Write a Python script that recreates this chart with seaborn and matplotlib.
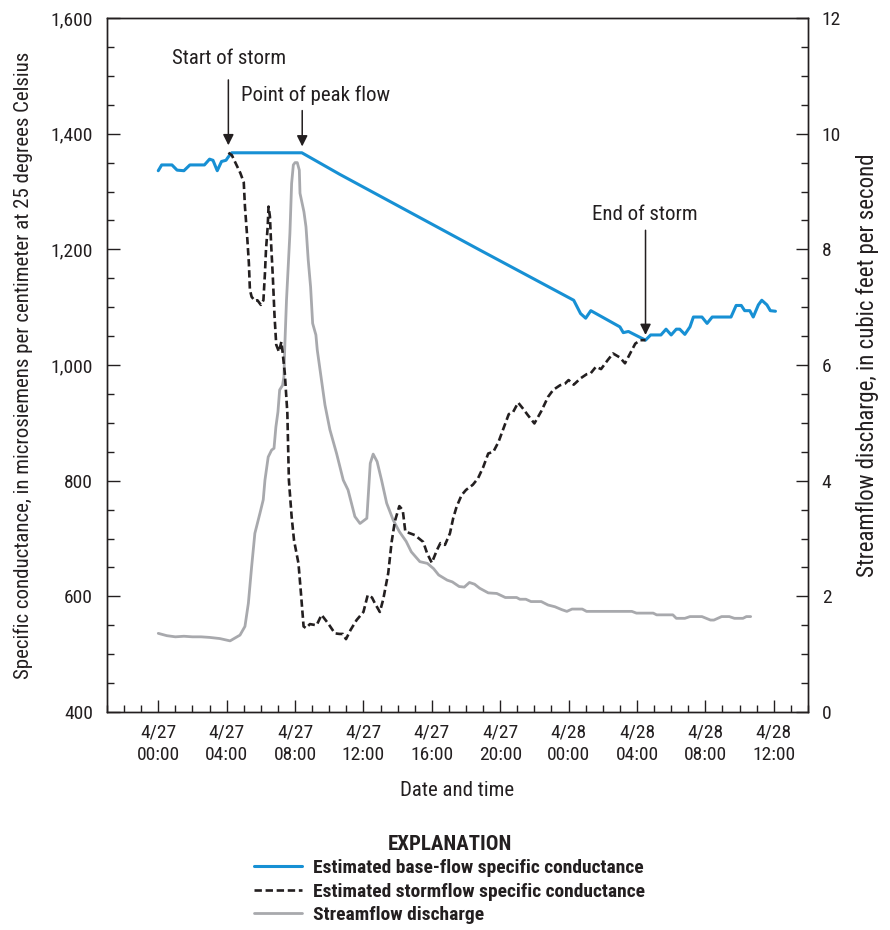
import matplotlib
matplotlib.use("Agg")
import matplotlib.pyplot as plt
from matplotlib.lines import Line2D
from matplotlib.ticker import MultipleLocator, FixedLocator, StrMethodFormatter
import numpy as np
import pandas as pd
import seaborn as sns

# ── data (hours after 4/27 00:00) ────────────────────────────────────────────
base_hours = [0.0, 0.2, 0.8, 1.1, 1.5, 1.85, 2.7, 3.0, 3.2, 3.45, 3.7, 3.96, 4.1,
              4.3, 8.4, 10.6, 18.8, 24.3, 24.7, 25.0, 25.3, 27.0, 27.2, 27.5,
              28.5, 28.8, 29.4, 29.7, 30.0, 30.3, 30.5, 30.8, 31.1, 31.3, 31.8,
              32.1, 32.4, 33.5, 33.8, 34.1, 34.3, 34.6, 34.8, 35.1, 35.3, 35.6,
              35.8, 36.1]
base_sc = [1336, 1346, 1346, 1337, 1336, 1346, 1346, 1356, 1354, 1336, 1352, 1354,
           1360, 1367, 1367, 1330, 1199, 1112, 1089, 1081, 1094, 1066, 1056, 1058,
           1043, 1052, 1052, 1062, 1052, 1062, 1062, 1053, 1066, 1083, 1083, 1072,
           1083, 1083, 1103, 1103, 1094, 1094, 1083, 1104, 1112, 1104, 1094, 1093]

storm_hours = [4.1, 4.3, 4.8, 5.0, 5.07, 5.2, 5.3, 5.36, 5.46, 5.65, 5.8, 6.0, 6.15,
               6.24, 6.3, 6.4, 6.45, 6.53, 6.6, 6.7, 6.8, 6.9, 7.06, 7.2, 7.27, 7.4,
               7.55, 7.64, 7.8, 7.94, 8.2, 8.33, 8.5, 8.64, 8.87, 9.26, 9.55, 9.94,
               10.33, 10.6, 10.8, 10.98, 11.25, 11.6, 12.0, 12.25, 12.5, 12.67,
               12.96, 13.16, 13.45, 13.65, 13.84, 14.1, 14.3, 14.45, 15.0, 15.5,
               15.73, 16.0, 16.3, 16.5, 16.77, 17.06, 17.25, 17.45, 17.74, 18.0,
               18.4, 18.7, 19.0, 19.3, 19.6, 19.9, 20.2, 20.5, 20.76, 21.05, 21.35,
               21.6, 22.0, 22.4, 22.8, 23.1, 23.5, 23.8, 24.0, 24.3, 24.7, 25.05,
               25.3, 25.6, 25.9, 26.3, 26.6, 27.0, 27.3, 27.6, 27.9, 28.2, 28.5]
storm_sc = [1367, 1363, 1332, 1316, 1274, 1222, 1176, 1130, 1118, 1111, 1112, 1104,
            1112, 1159, 1199, 1239, 1274, 1257, 1210, 1153, 1085, 1035, 1023, 1040,
            1023, 986, 917, 801, 738, 697, 657, 611, 548, 545, 552, 550, 568, 553,
            536, 535, 535, 526, 542, 559, 573, 602, 598, 588, 573, 595, 640, 694,
            730, 756, 749, 712, 706, 694, 674, 658, 680, 692, 689, 709, 735, 755,
            775, 784, 793, 804, 823, 847, 850, 867, 891, 915, 919, 935, 924, 914,
            899, 920, 945, 957, 965, 968, 974, 966, 977, 984, 986, 997, 993, 1009,
            1020, 1013, 1003, 1020, 1037, 1043, 1043]

flow_hours = [0.0, 0.5, 1.0, 1.5, 2.0, 2.5, 3.0, 3.6, 4.2, 4.78, 5.07, 5.27, 5.46,
              5.65, 5.95, 6.14, 6.24, 6.43, 6.63, 6.77, 6.88, 7.0, 7.1, 7.27, 7.35,
              7.4, 7.5, 7.7, 7.8, 7.9, 8.0, 8.13, 8.25, 8.29, 8.52, 8.64, 8.68,
              8.77, 8.91, 9.03, 9.22, 9.3, 9.75, 10.04, 10.43, 10.82, 11.1, 11.5,
              11.8, 12.2, 12.4, 12.57, 12.8, 13.06, 13.36, 13.74, 14.1, 14.5, 14.8,
              15.3, 15.74, 16.1, 16.4, 16.9, 17.2, 17.6, 17.9, 18.2, 18.5, 18.8,
              19.3, 19.8, 20.3, 20.96, 21.15, 21.5, 21.8, 22.4, 22.8, 23.2, 23.6,
              23.9, 24.2, 24.8, 25.05, 27.7, 27.97, 28.95, 29.15, 30.1, 30.3, 30.8,
              31.1, 31.8, 32.3, 32.5, 32.95, 33.4, 33.7, 34.2, 34.4, 34.65]
flow_cfs = [1.36, 1.32, 1.30, 1.31, 1.30, 1.30, 1.29, 1.27, 1.23, 1.33, 1.48, 1.88,
            2.51, 3.09, 3.44, 3.67, 4.01, 4.41, 4.53, 4.56, 4.93, 5.19, 5.57, 5.65,
            5.80, 6.32, 7.12, 8.28, 9.14, 9.46, 9.50, 9.50, 9.37, 8.97, 8.65, 8.39,
            8.22, 7.82, 7.35, 6.72, 6.52, 6.26, 5.31, 4.88, 4.47, 4.01, 3.84, 3.38,
            3.26, 3.35, 4.30, 4.46, 4.33, 4.01, 3.61, 3.32, 3.12, 2.95, 2.77, 2.60,
            2.57, 2.48, 2.37, 2.28, 2.25, 2.17, 2.16, 2.24, 2.21, 2.14, 2.06, 2.05,
            1.98, 1.98, 1.95, 1.95, 1.91, 1.91, 1.85, 1.82, 1.77, 1.74, 1.78, 1.78,
            1.74, 1.74, 1.71, 1.71, 1.68, 1.68, 1.62, 1.62, 1.65, 1.65, 1.59, 1.59,
            1.65, 1.65, 1.62, 1.62, 1.65, 1.65]

tick_hours = [0, 4, 8, 12, 16, 20, 24, 28, 32, 36]
tick_labels = ["4/27\n00:00", "4/27\n04:00", "4/27\n08:00", "4/27\n12:00",
               "4/27\n16:00", "4/27\n20:00", "4/28\n00:00", "4/28\n04:00",
               "4/28\n08:00", "4/28\n12:00"]

# annotations: (label, arrow hour, arrow tip SC, tail SC, text hour, text SC)
notes = [("Start of storm", 4.1, 1380, 1493, 4.15, 1530),
         ("Point of peak flow", 8.42, 1378, 1440, 9.2, 1467),
         ("End of storm", 28.5, 1052, 1233, 28.45, 1260)]

BLUE = "#1790d4"
GRAY = "#a8a9ad"
INK = "#231f20"

sns.set_theme(style="white")
plt.rcParams["font.family"] = ["Liberation Sans Narrow", "Roboto Condensed",
                               "DejaVu Sans"]
plt.rcParams["font.stretch"] = "condensed"
plt.rcParams["text.color"] = INK
plt.rcParams["axes.labelcolor"] = INK
plt.rcParams["xtick.color"] = INK
plt.rcParams["ytick.color"] = INK

base = pd.DataFrame({"hour": base_hours, "sc": base_sc})
storm = pd.DataFrame({"hour": storm_hours, "sc": storm_sc})
flow = pd.DataFrame({"hour": flow_hours, "q": flow_cfs})

fig = plt.figure(figsize=(8.9, 9.3), dpi=100)
ax = fig.add_axes([0.1202, 0.2344, 0.7876, 0.7462])
ax2 = ax.twinx()

sns.lineplot(data=flow, x="hour", y="q", ax=ax2, color=GRAY, lw=2.0,
             estimator=None, sort=False)
sns.lineplot(data=base, x="hour", y="sc", ax=ax, color=BLUE, lw=2.2,
             estimator=None, sort=False)
sns.lineplot(data=storm, x="hour", y="sc", ax=ax, color=INK, lw=1.9,
             estimator=None, sort=False, dashes=False)
ax.lines[-1].set_dashes((2.8, 1.4))

# conductance lines drawn above discharge
ax.set_zorder(ax2.get_zorder() + 1)
ax.patch.set_visible(False)

ax.set_xlim(-3, 38)
ax.set_ylim(400, 1600)
ax2.set_ylim(0, 12)

ax.xaxis.set_major_locator(FixedLocator(tick_hours))
ax.set_xticklabels(tick_labels, linespacing=1.35)
ax.xaxis.set_minor_locator(MultipleLocator(1))
ax.yaxis.set_major_locator(MultipleLocator(200))
ax.yaxis.set_minor_locator(MultipleLocator(50))
ax.yaxis.set_major_formatter(StrMethodFormatter("{x:,.0f}"))
ax2.yaxis.set_major_locator(MultipleLocator(2))
ax2.yaxis.set_minor_locator(MultipleLocator(0.5))

for a in (ax, ax2):
    a.tick_params(which="major", direction="in", length=9, width=1.0,
                  labelsize=14, pad=10)
    a.tick_params(which="minor", direction="in", length=5, width=1.0)
    for s in a.spines.values():
        s.set_color(INK)
        s.set_linewidth(1.0)
ax.tick_params(axis="y", which="both", left=True, right=False)
ax.tick_params(axis="x", which="both", bottom=True, top=False, pad=8)
ax2.tick_params(axis="y", which="both", right=True, left=False, pad=10)
ax2.tick_params(axis="x", which="both", bottom=False, top=False)

ax.set_xlabel("Date and time", fontsize=15, labelpad=12)
ax.set_ylabel("Specific conductance, in microsiemens per centimeter at 25 degrees Celsius",
              fontsize=15, labelpad=13)
ax2.set_ylabel("Streamflow discharge, in cubic feet per second",
               fontsize=16.5, labelpad=11)

for label, xh, tip, tail, tx, ty in notes:
    ax.annotate("", xy=(xh, tip), xytext=(xh, tail),
                arrowprops=dict(arrowstyle="-|>", color=INK, lw=1.1,
                                mutation_scale=16, shrinkA=0, shrinkB=0))
    ax.text(tx, ty, label, fontsize=15, ha="center", va="center", color=INK)

handles = [Line2D([], [], color=BLUE, lw=2.2),
           Line2D([], [], color=INK, lw=1.9, dashes=(2.8, 1.4)),
           Line2D([], [], color=GRAY, lw=2.0)]
labels = ["Estimated base-flow specific conductance",
          "Estimated stormflow specific conductance",
          "Streamflow discharge"]
leg = fig.legend(handles, labels, loc="upper center", bbox_to_anchor=(0.505, 0.113),
                 frameon=False, title="EXPLANATION", handlelength=2.5,
                 handletextpad=0.55, labelspacing=0.28, borderpad=0.0,
                 prop={"size": 14, "weight": "bold", "stretch": "condensed"},
                 title_fontproperties={"size": 15, "weight": "bold",
                                       "stretch": "condensed"})
leg._legend_box.align = "center"

fig.savefig("out.png", dpi=100)
